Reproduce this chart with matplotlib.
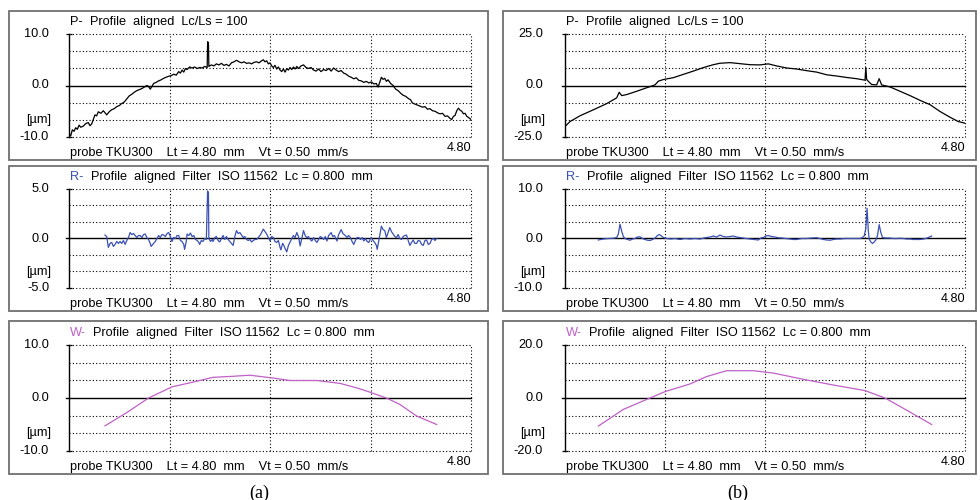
import matplotlib.pyplot as plt
from matplotlib.patches import Rectangle

plt.rcParams['font.family'] = ['Liberation Sans', 'DejaVu Sans']

# ---- (a) P-profile
pa_x = [0.00, 0.02, 0.04, 0.06, 0.08, 0.10, 0.12, 0.14, 0.17, 0.20, 0.23, 0.25, 0.27, 0.29, 0.31,
        0.33, 0.35, 0.38, 0.41, 0.43, 0.45, 0.48, 0.51, 0.54, 0.57, 0.60, 0.63, 0.66, 0.69, 0.72,
        0.75, 0.78, 0.81, 0.84, 0.87, 0.90, 0.93, 0.95, 0.97, 0.99, 1.01, 1.04, 1.07, 1.10, 1.13,
        1.16, 1.19, 1.22, 1.25, 1.28, 1.31, 1.33, 1.35, 1.37, 1.39, 1.41, 1.44, 1.47, 1.50, 1.53,
        1.56, 1.59, 1.62, 1.65, 1.655, 1.665, 1.67, 1.70, 1.73, 1.76, 1.79, 1.82, 1.85, 1.88, 1.91,
        1.94, 1.97, 2.00, 2.03, 2.06, 2.09, 2.12, 2.15, 2.18, 2.21, 2.24, 2.27, 2.30, 2.32, 2.34,
        2.36, 2.38, 2.40, 2.42, 2.44, 2.46, 2.48, 2.50, 2.52, 2.54, 2.56, 2.58, 2.60, 2.62, 2.64,
        2.66, 2.68, 2.70, 2.72, 2.74, 2.77, 2.80, 2.83, 2.86, 2.89, 2.92, 2.95, 2.98, 3.01, 3.04,
        3.07, 3.10, 3.13, 3.16, 3.19, 3.22, 3.25, 3.28, 3.31, 3.34, 3.37, 3.40, 3.43, 3.46, 3.49,
        3.52, 3.55, 3.58, 3.61, 3.64, 3.67, 3.69, 3.71, 3.73, 3.75, 3.77, 3.79, 3.81, 3.84, 3.87,
        3.90, 3.93, 3.96, 3.99, 4.02, 4.05, 4.08, 4.10, 4.13, 4.16, 4.19, 4.22, 4.25, 4.28, 4.31,
        4.34, 4.37, 4.40, 4.43, 4.46, 4.49, 4.52, 4.55, 4.57, 4.59, 4.61, 4.63, 4.65, 4.67, 4.69,
        4.71, 4.73, 4.75, 4.77, 4.80]
pa_y = [-9.3, -9.8, -8.6, -8.9, -8.2, -8.5, -7.7, -8.1, -7.9, -7.4, -7.2, -7.8, -7.5, -6.6, -5.7,
        -5.9, -5.1, -5.4, -4.9, -5.3, -5.7, -5.1, -4.7, -4.5, -4.1, -3.9, -3.5, -3.2, -2.6, -2.0,
        -1.7, -1.3, -1.0, -0.8, -0.6, -0.3, 0.0, -0.2, -0.7, -0.2, 0.4, 0.6, 0.9, 1.1, 1.4,
        1.6, 1.8, 1.9, 2.2, 2.0, 2.7, 2.4, 3.0, 2.6, 3.3, 3.1, 3.6, 3.4, 3.6, 3.3,
        3.5, 3.4, 3.7, 3.5, 8.5, 8.3, 3.7, 4.0, 3.8, 4.2, 4.0, 4.3, 3.9, 4.1, 3.8,
        4.4, 4.6, 4.9, 4.6, 4.4, 4.6, 4.3, 4.4, 4.2, 4.5, 4.6, 4.4, 4.8, 5.0, 4.6,
        4.8, 4.2, 4.4, 3.8, 3.5, 3.9, 3.2, 3.6, 3.0, 2.7, 3.2, 2.6, 3.3, 3.0, 3.5,
        3.1, 3.6, 3.2, 3.7, 3.3, 3.8, 4.0, 3.5, 3.3, 3.5, 3.0, 2.8, 3.2, 2.7, 3.1,
        2.9, 3.3, 2.8, 3.4, 3.0, 2.7, 2.9, 2.4, 2.2, 1.8, 1.6, 1.3, 1.5, 1.0, 0.9,
        0.6, 0.8, 0.5, 0.7, 0.3, 0.4, -0.3, 0.6, 1.6, 1.2, 1.4, 0.8, 1.1, 0.4, 0.0,
        -0.7, -1.0, -1.5, -1.9, -2.1, -2.5, -2.8, -3.4, -3.6, -3.8, -4.0, -4.2, -4.1, -4.6, -4.5,
        -4.9, -5.0, -5.3, -5.5, -5.4, -6.0, -5.9, -6.4, -6.6, -6.0, -5.8, -4.9, -4.4, -4.8, -5.0,
        -5.5, -5.4, -6.0, -6.2, -6.6]

# ---- (a) R-profile
ra_x = [0.43, 0.45, 0.47, 0.49, 0.51, 0.53, 0.55, 0.57, 0.59, 0.61, 0.63, 0.65, 0.67, 0.69, 0.71,
        0.73, 0.75, 0.77, 0.79, 0.81, 0.83, 0.85, 0.87, 0.89, 0.91, 0.93, 0.95, 0.97, 0.98, 1.00,
        1.03, 1.05, 1.07, 1.09, 1.11, 1.13, 1.15, 1.17, 1.19, 1.21, 1.23, 1.25, 1.27, 1.29, 1.31,
        1.33, 1.35, 1.37, 1.38, 1.40, 1.41, 1.43, 1.45, 1.47, 1.49, 1.51, 1.53, 1.55, 1.56, 1.58,
        1.60, 1.62, 1.64, 1.655, 1.665, 1.67, 1.69, 1.71, 1.72, 1.74, 1.76, 1.78, 1.80, 1.82, 1.84,
        1.86, 1.88, 1.90, 1.92, 1.94, 1.96, 1.98, 2.00, 2.02, 2.04, 2.06, 2.08, 2.10, 2.12, 2.14,
        2.16, 2.18, 2.20, 2.22, 2.24, 2.26, 2.28, 2.30, 2.32, 2.34, 2.36, 2.38, 2.40, 2.42, 2.44,
        2.46, 2.48, 2.50, 2.52, 2.53, 2.55, 2.56, 2.58, 2.60, 2.62, 2.64, 2.66, 2.68, 2.70, 2.72,
        2.74, 2.76, 2.78, 2.80, 2.82, 2.84, 2.86, 2.88, 2.90, 2.92, 2.94, 2.96, 2.98, 3.00, 3.02,
        3.04, 3.06, 3.08, 3.10, 3.13, 3.15, 3.17, 3.19, 3.20, 3.22, 3.25, 3.27, 3.30, 3.32, 3.34,
        3.36, 3.38, 3.40, 3.42, 3.44, 3.46, 3.48, 3.50, 3.52, 3.54, 3.56, 3.58, 3.60, 3.61, 3.63,
        3.65, 3.67, 3.68, 3.70, 3.71, 3.73, 3.75, 3.77, 3.79, 3.81, 3.83, 3.85, 3.87, 3.89, 3.91,
        3.93, 3.95, 3.97, 3.99, 4.01, 4.03, 4.05, 4.07, 4.09, 4.11, 4.13, 4.15, 4.17, 4.19, 4.21,
        4.23, 4.25, 4.27, 4.29, 4.31, 4.33, 4.35, 4.37, 4.39]
ra_y = [0.35, 0.2, -0.9, -0.5, -0.4, -0.8, -0.6, -0.3, -0.5, -0.3, -0.5, -0.2, -0.6, -0.2, 0.1,
        0.6, 0.4, 0.5, 0.3, 0.1, 0.3, 0.3, 0.1, 0.4, 0.45, 0.1, -0.1, -0.5, -0.8, -0.6,
        -0.3, 0.0, 0.3, 0.1, 0.4, 0.35, 0.2, 0.5, 0.6, 0.2, -0.3, 0.1, 0.0, 0.3, 0.3,
        -0.2, -0.3, -0.6, -1.1, -0.3, 0.45, 0.3, 0.55, 0.2, 0.3, -0.1, -0.2, -0.4, -0.6, -0.2,
        -0.3, 0.0, -0.1, 4.8, 4.6, 0.0, -0.3, -0.1, -0.3, 0.1, 0.2, -0.2, -0.35, 0.0, 0.3,
        -0.1, 0.2, -0.1, -0.3, -0.5, -0.7, 0.2, 0.8, 0.5, 0.6, 0.35, 0.1, 0.2, -0.1, -0.2,
        -0.1, -0.35, -0.2, -0.1, -0.1, 0.1, 0.3, 0.6, 0.95, 0.7, 0.45, 0.1, -0.25, 0.2, 0.1,
        -0.3, -0.4, -0.2, -0.9, -1.15, -0.5, -0.6, -1.0, -1.35, -0.7, -0.35, 0.0, 0.3, 0.1, 0.6,
        0.2, -0.75, 0.0, 0.8, 0.3, 0.1, 0.2, -0.1, -0.25, 0.1, -0.2, -0.4, -0.1, 0.2, 0.1,
        -0.1, 0.2, -0.25, 0.3, 0.6, 0.2, 0.3, -0.1, -0.25, 0.4, 0.9, 0.5, 0.3, 0.1, 0.3,
        0.1, -0.3, -0.6, -0.2, 0.1, 0.1, -0.1, 0.1, -0.25, 0.0, -0.3, -0.4, 0.0, 0.1, -0.2,
        -0.4, -0.7, -1.1, -0.2, 0.3, 1.25, 0.9, 0.8, 0.1, 0.6, 1.1, 0.7, 0.45, 0.2, 0.1,
        0.4, 0.0, -0.1, 0.2, 0.3, 0.35, -0.2, -0.7, -0.4, -0.15, -0.5, -0.5, -0.2, -0.25, -0.6,
        -0.7, -0.2, -0.15, -0.6, -0.5, -0.1, 0.0, -0.2, 0.0]

# ---- (a) W-profile
wa_x = [0.43, 0.69, 0.95, 1.23, 1.48, 1.72, 1.96, 2.16, 2.42, 2.64, 2.96, 3.24, 3.47, 3.61,
        3.79, 3.95, 4.15, 4.39]
wa_y = [-5.25, -2.75, 0.0, 2.1, 3.0, 3.9, 4.1, 4.3, 3.8, 3.3, 3.3, 2.75, 1.75, 1.0,
        0.0, -1.2, -3.4, -5.0]

# ---- (b) P-profile
pb_x = [0.00, 0.06, 0.18, 0.34, 0.50, 0.62, 0.65, 0.68, 0.74, 0.86, 0.98, 1.08, 1.12, 1.18,
        1.30, 1.42, 1.54, 1.66, 1.78, 1.86, 1.98, 2.10, 2.22, 2.34, 2.44, 2.54, 2.66, 2.78,
        2.90, 3.02, 3.14, 3.26, 3.38, 3.50, 3.60, 3.61, 3.62, 3.64, 3.68, 3.74, 3.77, 3.80,
        3.90, 4.02, 4.14, 4.26, 4.38, 4.50, 4.62, 4.72, 4.80]
pb_y = [-19.9, -17.5, -14.7, -11.8, -8.8, -6.0, -3.3, -4.9, -4.4, -2.8, -1.1, 0.3, 2.1, 2.9,
        3.8, 5.4, 7.0, 8.7, 10.1, 10.8, 11.1, 10.6, 10.1, 10.0, 10.5, 9.5, 8.5, 8.0,
        7.2, 6.5, 5.2, 4.6, 3.9, 3.3, 2.6, 8.7, 3.0, 2.0, 0.5, 0.3, 3.3, 0.3,
        -0.7, -2.8, -4.9, -7.2, -9.3, -12.6, -15.4, -17.5, -18.3]

# ---- (b) R-profile
rb_x = [0.40, 0.46, 0.52, 0.58, 0.62, 0.64, 0.66, 0.68, 0.70, 0.72, 0.75, 0.78, 0.81, 0.84, 0.87,
        0.90, 0.93, 0.96, 0.99, 1.02, 1.05, 1.08, 1.11, 1.13, 1.15, 1.18, 1.22, 1.27, 1.32, 1.38,
        1.44, 1.50, 1.56, 1.62, 1.67, 1.70, 1.74, 1.78, 1.82, 1.86, 1.90, 1.94, 1.98, 2.02, 2.06,
        2.12, 2.17, 2.22, 2.27, 2.32, 2.35, 2.38, 2.41, 2.44, 2.48, 2.52, 2.56, 2.60, 2.65, 2.70,
        2.74, 2.78, 2.84, 2.90, 2.96, 3.02, 3.06, 3.10, 3.14, 3.18, 3.22, 3.26, 3.30, 3.36, 3.42,
        3.48, 3.54, 3.57, 3.59, 3.61, 3.625, 3.64, 3.65, 3.67, 3.69, 3.71, 3.73, 3.75, 3.77, 3.79,
        3.81, 3.85, 3.89, 3.94, 3.98, 4.02, 4.06, 4.10, 4.14, 4.18, 4.22, 4.26, 4.30, 4.33, 4.36,
        4.40]
rb_y = [-0.3, -0.1, 0.0, 0.05, 0.2, 0.9, 2.9, 1.5, 0.4, 0.0, -0.2, -0.35, -0.1, 0.0, 0.3,
        0.35, 0.0, -0.2, -0.35, -0.4, -0.2, 0.1, 0.6, 0.8, 0.6, 0.2, 0.0, -0.1, 0.0, -0.2,
        0.0, -0.1, 0.0, -0.1, 0.1, 0.2, 0.3, 0.5, 0.3, 0.7, 0.4, 0.3, 0.4, 0.5, 0.3,
        0.15, 0.0, -0.1, -0.2, -0.3, 0.1, 0.2, 0.5, 0.6, 0.4, 0.3, 0.15, 0.1, 0.0, -0.1,
        -0.2, -0.2, 0.0, 0.0, 0.1, 0.15, 0.0, -0.2, -0.3, -0.35, -0.2, -0.1, -0.1, 0.0, 0.0,
        0.0, 0.0, 0.2, 0.5, 2.0, 6.1, 1.5, -0.1, -0.7, -1.0, -0.7, -0.3, 0.6, 2.8, 1.2,
        0.2, 0.1, 0.1, 0.0, 0.0, 0.05, 0.0, -0.1, -0.1, -0.2, -0.2, -0.2, -0.1, 0.0, 0.2,
        0.5]

# ---- (b) W-profile
wb_x = [0.40, 0.70, 1.02, 1.20, 1.50, 1.70, 1.94, 2.26, 2.50, 2.90, 3.22, 3.60, 3.84, 4.10, 4.40]
wb_y = [-10.6, -4.3, 0.0, 2.4, 5.3, 8.1, 10.3, 10.3, 9.4, 6.8, 4.9, 2.8, 0.0, -4.6, -10.0]

y_limits = [[10.0, 5.0, 10.0], [25.0, 10.0, 20.0]]

head_p = "  Profile  aligned  Lc/Ls = 100"
head_rw = "  Profile  aligned  Filter  ISO 11562  Lc = 0.800  mm"
foot = "probe TKU300    Lt = 4.80  mm    Vt = 0.50  mm/s"

BLUE = "#3a50b4"
MAGENTA = "#c060c8"

W, H = 980, 500
fig = plt.figure(figsize=(W / 100, H / 100), dpi=100)
fs = 9.2


def fxy(x, y):
    return x / W, 1 - y / H


# pixel layout of the panels
cols = [dict(box=(9, 488), ax=(69, 471)), dict(box=(503, 976), ax=(565, 965))]
rows = [dict(box=(11, 160), ax=(34, 137)),
        dict(box=(166, 311), ax=(189, 288)),
        dict(box=(321, 474), ax=(345, 451))]

series = [
    [(pa_x, pa_y, "k", "P-", "k", head_p), (ra_x, ra_y, BLUE, "R-", BLUE, head_rw),
     (wa_x, wa_y, MAGENTA, "W-", MAGENTA, head_rw)],
    [(pb_x, pb_y, "k", "P-", "k", head_p), (rb_x, rb_y, BLUE, "R-", BLUE, head_rw),
     (wb_x, wb_y, MAGENTA, "W-", MAGENTA, head_rw)],
]

dot = (0, (1, 2))

for ci, col in enumerate(cols):
    for ri, row in enumerate(rows):
        xs, ys, lc, prefix, pc, head = series[ci][ri]
        lim = y_limits[ci][ri]
        bl, br = col["box"]
        bt, bb = row["box"]
        al, ar = col["ax"]
        at, ab = row["ax"]

        fig.add_artist(Rectangle(fxy(bl, bb), (br - bl) / W, (bb - bt) / H,
                                 transform=fig.transFigure, fill=False,
                                 ec="#707070", lw=1.3))

        ax = fig.add_axes([al / W, 1 - ab / H, (ar - al) / W, (ab - at) / H])
        ax.set_xlim(0, 4.8)
        ax.set_ylim(-lim, lim)
        for s in ax.spines.values():
            s.set_visible(False)
        ax.spines["left"].set_visible(True)
        ax.spines["left"].set_linewidth(1.0)
        ax.set_xticks([])
        ax.set_yticks([-lim, lim])
        ax.set_yticklabels([])
        ax.tick_params(axis="y", direction="inout", length=5, width=0.9)
        ax.patch.set_alpha(0)

        step = lim / 3
        for k in range(-3, 4):
            if k == 0:
                continue
            ax.axhline(k * step, color="k", lw=0.8, ls=dot, clip_on=False)
        for xv in [1.2, 2.4, 3.6, 4.8]:
            ax.axvline(xv, color="k", lw=0.8, ls=dot, clip_on=False)
        ax.plot([-0.04, 4.8], [0, 0], color="k", lw=1.0, clip_on=False)

        ax.plot(xs, ys, color=lc, lw=0.9)

        # labels
        for val, yp in [(lim, at), (0.0, (at + ab) / 2), (-lim, ab)]:
            fig.text(*fxy(bl + 40, yp), "%.1f" % val, ha="right", va="center", fontsize=fs)
        fig.text(*fxy(bl + 17, at + 5 * (ab - at) / 6), "[\u00b5m]", ha="left", va="center",
                 fontsize=fs)

        t1 = fig.text(*fxy(al + 1, at - 12), prefix, color=pc, ha="left", va="center",
                      fontsize=fs)
        ax.annotate(head, xy=(1, 0.5), xycoords=t1, ha="left", va="center", fontsize=fs,
                    annotation_clip=False)

        fig.text(*fxy(al + 1, ab + 16), foot, ha="left", va="center", fontsize=fs)
        fig.text(*fxy(ar, ab + 11), "4.80", ha="right", va="center", fontsize=fs)

fig.text(*fxy(259, 493), "(a)", ha="center", va="center", fontsize=13,
         family="Liberation Serif")
fig.text(*fxy(738, 493), "(b)", ha="center", va="center", fontsize=13,
         family="Liberation Serif")

fig.savefig("out.png", dpi=100)
